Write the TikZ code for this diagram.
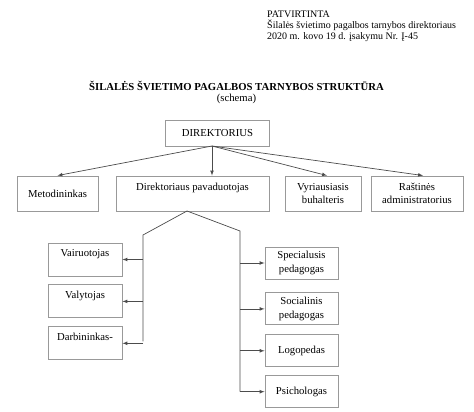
\documentclass[tikz,border=0pt]{standalone}
\usepackage{fontspec}
\setmainfont{Liberation Serif}
\usepackage{tikz}
\usetikzlibrary{positioning}

\begin{document}
\begin{tikzpicture}[x=1pt, y=-1pt, >=latex, font=\fontsize{10.7}{13.5}\selectfont,
  box/.style={draw=gray!80, line width=0.9pt, rectangle, minimum height=35pt, align=center, inner sep=1pt},
  sub/.style={draw=gray!80, line width=0.9pt, rectangle, minimum width=74pt, minimum height=33pt, align=center, inner sep=1pt},
  link/.style={draw=black!70, line width=0.7pt}]
  \useasboundingbox (0,0) rectangle (474,412);
  \node[anchor=north west, align=left, inner sep=0pt, font=\fontsize{10}{11}\selectfont] (hdr) at (267,10.5) {PATVIRTINTA\\Šilalės švietimo pagalbos tarnybos direktoriaus\\2020 m. kovo 19 d. įsakymu Nr. Į-45};
  \node[anchor=base, font=\fontsize{10.7}{13.5}\selectfont\bfseries] (title) at (236.5,90) {ŠILALĖS ŠVIETIMO PAGALBOS TARNYBOS STRUKTŪRA};
  \node[anchor=base] (schema) at (236.5,101) {(schema)};
  \node[box, minimum width=104pt, minimum height=26pt] (dir) at (217.5,133) {DIREKTORIUS};
  \node[box, minimum width=81pt] (met) at (57.5,193.5) {Metodininkas};
  \node[box, minimum width=153pt] (pav) at (192.5,193.5) {Direktoriaus pavaduotojas\\~};
  \node[box, minimum width=76pt] (vyr) at (323,193.5) {Vyriausiasis\\buhalteris};
  \node[box, minimum width=92pt] (ras) at (417,193.5) {Raštinės\\administratorius};
  \node[sub] (vai) at (85,259.5) {Vairuotojas\\~};
  \node[sub, below=8pt of vai] (val) {Valytojas\\~};
  \node[sub, below=8pt of val] (dar) {Darbininkas-\\~};
  \node[sub, minimum width=73pt, minimum height=32pt] (spe) at (301.5,263) {Specialusis\\pedagogas};
  \node[sub, minimum width=73pt, minimum height=32pt, below=13pt of spe] (soc) {Socialinis\\pedagogas};
  \node[sub, minimum width=73pt, minimum height=32pt, below=9pt of soc] (log) {Logopedas};
  \node[sub, minimum width=73pt, minimum height=32pt, below=8pt of log] (psi) {Psichologas};
  \coordinate (hub) at (212,146);
  \coordinate (fork) at (187,211);
  \coordinate (lk) at (143,235);
  \coordinate (rk) at (240,231);
  \draw[->, link] (hub) -- (met.north);
  \draw[->, link] (hub) -- (hub |- pav.north);
  \draw[->, link] (hub) -- ([xshift=4pt]vyr.north);
  \draw[->, link] (hub) -- ([xshift=6pt]ras.north);
  \draw[link] (fork) -- (lk) -- ([yshift=2pt]lk |- dar.east);
  \draw[link] (fork) -- (rk) -- (rk |- psi.west);
  \draw[->, link] (lk |- vai.east) -- (vai.east);
  \draw[->, link] (lk |- val.east) -- (val.east);
  \draw[->, link] (lk |- dar.east) -- (dar.east);
  \draw[->, link] (rk |- spe.west) -- (spe.west);
  \draw[->, link] (rk |- soc.west) -- (soc.west);
  \draw[->, link] (rk |- log.west) -- (log.west);
  \draw[->, link] (rk |- psi.west) -- (psi.west);
\end{tikzpicture}
\end{document}
